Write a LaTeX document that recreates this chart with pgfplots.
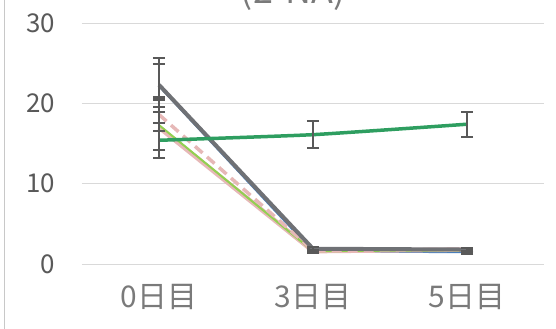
\documentclass[border=0pt]{standalone}
\usepackage{fontspec}
\setmainfont{Noto Sans CJK JP}
\usepackage{pgfplots}
\pgfplotsset{compat=1.18}

\definecolor{gridgray}{HTML}{D9D9D9}
\definecolor{framegray}{HTML}{C8C8C8}
\definecolor{ylab}{HTML}{595959}
\definecolor{xlab}{HTML}{7A7A7A}
\definecolor{titlegray}{HTML}{7A7A7A}
\definecolor{errgray}{HTML}{595959}
\definecolor{sgray}{HTML}{6F7175}
\definecolor{sblue}{HTML}{4A7EBB}
\definecolor{spink}{HTML}{E6B8B7}
\definecolor{slgreen}{HTML}{92D050}
\definecolor{sdgreen}{HTML}{2E9E60}

\pgfplotsset{
  ebar/.style={
    error bars/.cd,
      y dir=both, y explicit,
      error bar style={line width=2bp, color=errgray},
      error mark options={rotate=90, mark size=6bp, line width=2bp, color=errgray},
  },
}

\begin{document}
\begin{tikzpicture}
\begin{axis}[
  scale only axis,
  width=462bp, height=241bp,
  xmin=-0.5, xmax=2.5, ymin=0, ymax=30,
  xtick={0,1,2}, xticklabels={0日目,3日目,5日目},
  ytick={0,10,20,30},
  ymajorgrids,
  grid style={color=gridgray, line width=1bp},
  axis line style={draw=none},
  major tick length=0pt,
  tick style={draw=none},
  /pgf/number format/assume math mode=true,
  yticklabel style={font=\fontsize{26}{30}\selectfont, text=ylab, inner sep=0pt, xshift=-27bp},
  xticklabel style={font=\fontsize{30}{34}\selectfont, text=xlab, inner sep=0pt, yshift=-20bp},
  title={(2-NA)},
  title style={font=\fontsize{36}{40}\selectfont, text=titlegray,
               at={(axis description cs:0.457,1)}, anchor=base, yshift=14bp},
  clip=false,
  line join=round,
]
% blue series, mostly hidden below the gray one
\addplot[sblue, line width=2.5bp, ebar] table[x=x, y=y, y error=e] {
x y e
0 22.2 2.7
1 1.6 0.2
2 1.5 0.2
};
% pink, solid
\addplot[spink, line width=4.5bp, ebar] table[x=x, y=y, y error=e] {
x y e
0 17.0 3.8
1 1.6 0.2
2 1.8 0.2
};
% light green
\addplot[slgreen, line width=2bp, ebar] table[x=x, y=y, y error=e] {
x y e
0 17.3 3.1
1 1.6 0.2
2 1.7 0.2
};
% pink, dashed
\addplot[spink, line width=3.5bp, dash pattern=on 10bp off 6bp, ebar] table[x=x, y=y, y error=e] {
x y e
0 18.6 2.0
1 1.7 0.2
2 1.8 0.2
};
% gray
\addplot[sgray, line width=4bp, ebar] table[x=x, y=y, y error=e] {
x y e
0 22.3 3.4
1 1.9 0.2
2 1.8 0.2
};
% dark green
\addplot[sdgreen, line width=3.5bp, smooth, tension=0.3, ebar] table[x=x, y=y, y error=e] {
x y e
0 15.4 2.2
1 16.1 1.65
2 17.4 1.55
};
\end{axis}
% chart area frame on the left
\draw[framegray, line width=1bp]
  ([shift={(-77bp,-65bp)}]current axis.south west) --
  ([shift={(-77bp,23bp)}]current axis.north west);
\pgfresetboundingbox
\path[use as bounding box]
  ([shift={(-82bp,-65bp)}]current axis.south west) rectangle
  ([shift={(12bp,23bp)}]current axis.north east);
\end{tikzpicture}
\end{document}
